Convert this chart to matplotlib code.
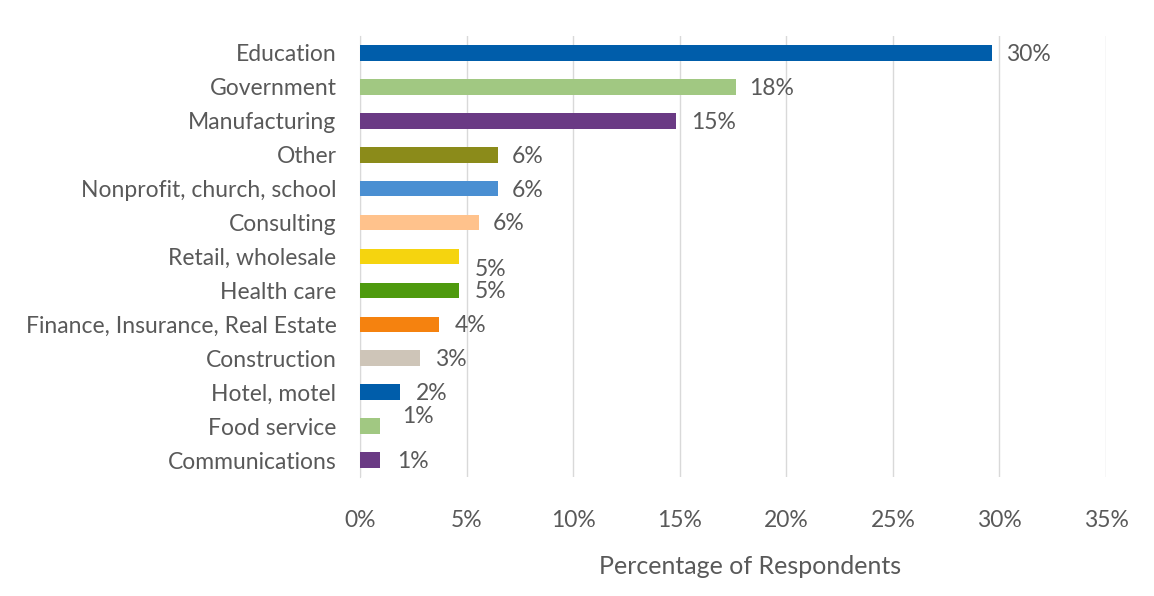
import matplotlib

matplotlib.use("Agg")

import matplotlib.pyplot as plt

industries = [
    "Education",
    "Government",
    "Manufacturing",
    "Other",
    "Nonprofit, church, school",
    "Consulting",
    "Retail, wholesale",
    "Health care",
    "Finance, Insurance, Real Estate",
    "Construction",
    "Hotel, motel",
    "Food service",
    "Communications",
]
share = [29.66, 17.62, 14.82, 6.48, 6.48, 5.58, 4.66, 4.66, 3.72, 2.8, 1.86, 0.94, 0.94]
share_labels = ["30%", "18%", "15%", "6%", "6%", "6%", "5%", "5%", "4%", "3%", "2%", "1%", "1%"]
colors = [
    "#005DAA", "#A1C882", "#6A3A84", "#8B8B1A", "#4A8FD2", "#FFC28C", "#F5D40F",
    "#4E9A0E", "#F5820F", "#CEC5B8", "#005DAA", "#A1C882", "#6A3A84",
]
# nudges (points) that the source tool used to avoid overlapping labels
label_dy = [0, 0, 0, 0, 0, 0, -8, 0, 0, 0, 0, 8, 0]
label_dx = [10, 10, 11, 10, 10, 10, 11, 11, 11, 11, 12, 16, 12]

xticks = [0, 5, 10, 15, 20, 25, 30, 35]

plt.rcParams["font.family"] = ["Lato", "DejaVu Sans"]
text_color = "#595959"
fs = 16.5

fig = plt.figure(figsize=(11.54, 5.96), dpi=100)
ax = fig.add_axes([360 / 1154, 1 - 477 / 596, (1106 - 360) / 1154, (477 - 36) / 596])

ypos = list(range(len(industries)))
ax.barh(ypos, share, height=0.46, color=colors, zorder=3)

for y, v, lab, dx, dy in zip(ypos, share, share_labels, label_dx, label_dy):
    ax.annotate(lab, (v, y), xytext=(dx, dy - 1), textcoords="offset points",
                ha="left", va="center", fontsize=fs, color=text_color)

ax.set_xlim(0, 35)
ax.set_ylim(len(industries) - 0.5, -0.5)
ax.set_xticks(xticks)
ax.set_xticklabels([f"{t}%" for t in xticks])
ax.set_yticks(ypos)
ax.set_yticklabels(industries)
ax.tick_params(axis="x", length=0, pad=24, labelsize=fs, colors=text_color)
ax.tick_params(axis="y", length=0, pad=17, labelsize=fs, colors=text_color)

ax.grid(axis="x", color="#D9D9D9", linewidth=1, zorder=0)
for side in ["top", "right", "bottom"]:
    ax.spines[side].set_visible(False)
ax.spines["left"].set_color("#D9D9D9")

ax.set_xlabel("Percentage of Respondents", fontsize=18, color=text_color)
ax.xaxis.set_label_coords((750 - 360) / (1106 - 360), -(567 - 477) / (477 - 36), transform=ax.transAxes)
ax.xaxis.label.set_va("center")

fig.savefig("out.png", dpi=100)
